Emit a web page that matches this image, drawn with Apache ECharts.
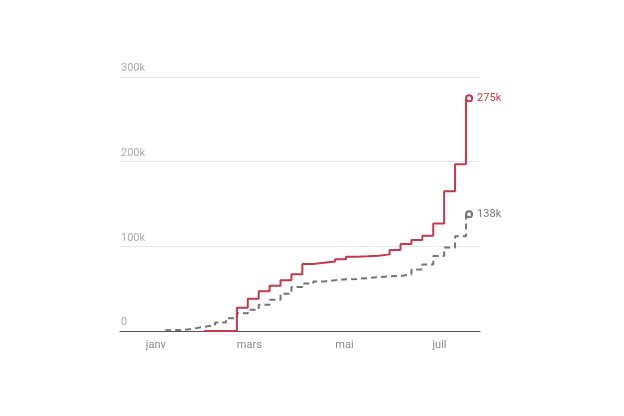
<!DOCTYPE html>
<html>
<head>
<meta charset="utf-8">
<script src="https://cdn.jsdelivr.net/npm/echarts@6/dist/echarts.min.js"></script>
<style>
  html, body { margin: 0; padding: 0; background: #fff; }
  #main { width: 624px; height: 416px; }
</style>
</head>
<body>
<div id="main"></div>
<script>
// semaines (cumul hebdomadaire), valeurs en milliers
var dates = ['2020-01-07', '2020-01-11', '2020-01-18', '2020-01-25', '2020-02-01',
             '2020-02-08', '2020-02-15', '2020-02-22', '2020-02-29', '2020-03-07',
             '2020-03-14', '2020-03-21', '2020-03-28', '2020-04-04', '2020-04-11',
             '2020-04-18', '2020-04-25', '2020-05-02', '2020-05-09', '2020-05-16',
             '2020-05-23', '2020-05-30', '2020-06-06', '2020-06-13', '2020-06-20',
             '2020-06-27', '2020-07-04', '2020-07-11', '2020-07-18', '2020-07-20'];
var redValues = [null, null, null, null, null,
                 0, 0, 0, 27.5, 38,
                 47, 53.5, 60, 67, 79,
                 80.5, 82, 84.6, 87.7, 88.3,
                 89, 90.5, 95.6, 102.7, 107.4,
                 112.5, 127, 165, 197, 275];
var grayValues = [1, 1, 1.2, 2.7, 5,
                  7, 10, 15, 21, 25,
                  31, 37, 44, 52, 56,
                  58.5, 60, 61, 61.5, 62.5,
                  63.5, 64.5, 65, 67, 72.5,
                  78.5, 88.5, 98.5, 112, 138];
var monthNames = ['janv', 'févr', 'mars', 'avr', 'mai', 'juin',
                  'juil', 'août', 'sept', 'oct', 'nov', 'déc'];
var yTicks = [0, 100, 200, 300];

var RED = '#c6394a', GRAY = '#747474';

function buildData(values) {
  var out = [];
  for (var i = 0; i < dates.length; i++) {
    if (i === dates.length - 1) {
      out.push({ value: [dates[i], values[i]], symbol: 'emptyCircle', symbolSize: 6 });
    } else {
      out.push([dates[i], values[i]]);
    }
  }
  return out;
}

var myChart = echarts.init(document.getElementById('main'));

var option = {
  animation: false,
  grid: { left: 120, right: 144, top: 77, bottom: 85 },
  xAxis: {
    type: 'time',
    min: new Date(2019, 11, 9).getTime(),
    max: new Date(2020, 6, 27).getTime(),
    splitLine: { show: false },
    axisTick: { show: false },
    axisLine: { lineStyle: { color: '#555', width: 1 } },
    axisLabel: {
      color: '#888',
      fontSize: 11,
      fontFamily: 'Roboto',
      margin: 9,
      hideOverlap: false,
      formatter: function (val) {
        var d = new Date(val);
        if (d.getDate() !== 1) return '';
        var m = d.getMonth();
        return m % 2 === 0 ? monthNames[m] : '';
      }
    }
  },
  yAxis: {
    type: 'value',
    min: 0,
    max: 300,
    interval: 100,
    axisLine: { show: false },
    axisTick: { show: false },
    splitLine: { lineStyle: { color: '#e6e6e6', width: 1 } },
    axisLabel: {
      inside: true,
      verticalAlign: 'bottom',
      margin: 1,
      padding: [0, 0, 3, 0],
      color: '#aaa',
      fontSize: 11,
      fontFamily: 'Roboto',
      formatter: function (v) {
        return yTicks.indexOf(v) >= 0 ? (v === 0 ? '0' : v + 'k') : '';
      }
    }
  },
  series: [
    {
      name: 'gris',
      type: 'line',
      step: 'start',
      symbol: 'none',
      data: buildData(grayValues),
      lineStyle: { color: GRAY, width: 2, type: [6, 4] },
      itemStyle: { color: GRAY, borderWidth: 1.5 },
      endLabel: {
        show: true,
        distance: 8,
        color: '#777',
        fontSize: 11,
        fontFamily: 'Roboto',
        formatter: function (p) { return Math.round(p.value[1]) + 'k'; }
      }
    },
    {
      name: 'rouge',
      type: 'line',
      step: 'start',
      symbol: 'none',
      data: buildData(redValues),
      lineStyle: { color: RED, width: 2 },
      itemStyle: { color: RED, borderWidth: 1.5 },
      endLabel: {
        show: true,
        distance: 8,
        color: RED,
        fontSize: 11,
        fontFamily: 'Roboto',
        formatter: function (p) { return Math.round(p.value[1]) + 'k'; }
      }
    }
  ]
};

myChart.setOption(option);
</script>
</body>
</html>
